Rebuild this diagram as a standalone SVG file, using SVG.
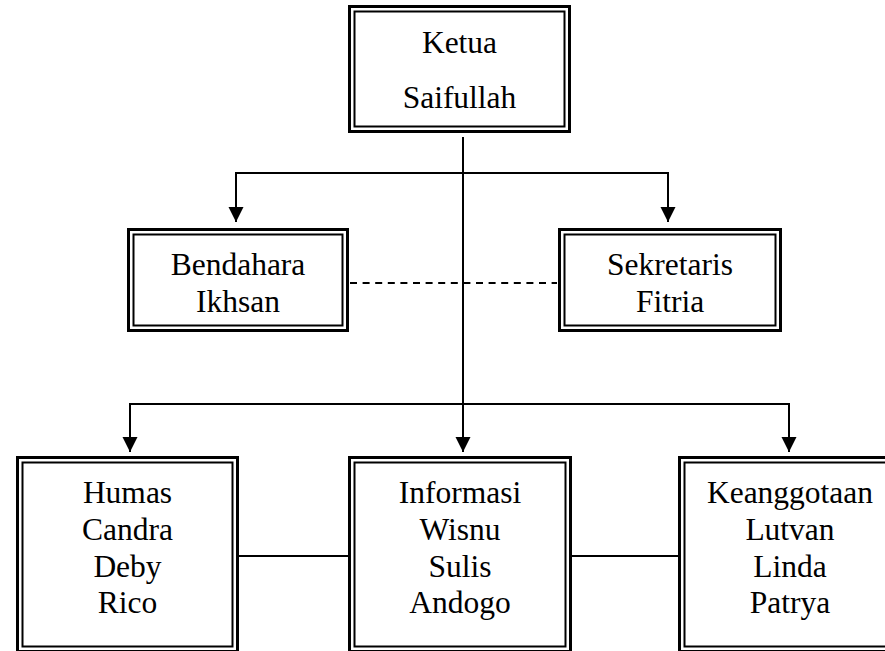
<svg xmlns="http://www.w3.org/2000/svg" width="885" height="651" viewBox="0 0 885 651">
<style>
.o{fill:#fff;stroke:#000;stroke-width:3}
.i{fill:none;stroke:#000;stroke-width:2}
text{font-family:'Liberation Serif','Times New Roman',Times,'DejaVu Serif',serif;font-size:31.5px;fill:#000;text-anchor:middle}
.c{fill:none;stroke:#000;stroke-width:2}
.d{fill:none;stroke:#000;stroke-width:2;stroke-dasharray:7 5.6}
</style>
<defs>
<marker id="ah" markerUnits="userSpaceOnUse" markerWidth="16" markerHeight="16" viewBox="0 0 16 16" refX="15" refY="7.5" orient="auto">
<path d="M0,0 L15,7.5 L0,15 z" fill="#000"/>
</marker>
</defs>
<rect width="885" height="651" fill="#fff"/>
<g id="connectors">
<line class="c" x1="463" y1="137" x2="463" y2="405"/>
<polyline class="c" points="236,173 668,173 668,222" marker-end="url(#ah)"/>
<line class="c" x1="236" y1="172" x2="236" y2="222" marker-end="url(#ah)"/>
<line class="c" x1="130" y1="404" x2="789" y2="404"/>
<line class="c" x1="130" y1="403" x2="130" y2="452" marker-end="url(#ah)"/>
<line class="c" x1="463" y1="403" x2="463" y2="452" marker-end="url(#ah)"/>
<line class="c" x1="789" y1="403" x2="789" y2="452" marker-end="url(#ah)"/>
<line class="d" x1="350" y1="283" x2="557" y2="283"/>
<line class="c" x1="239" y1="556" x2="348" y2="556"/>
<line class="c" x1="572" y1="556" x2="678" y2="556"/>
</g>
<g id="ketua" font-family="Liberation Serif, serif">
<rect class="o" x="349.5" y="6.5" width="220" height="125"/>
<rect class="i" x="354.5" y="11.5" width="210" height="115"/>
<text x="459.5" y="53">Ketua</text>
<text x="459.5" y="108">Saifullah</text>
</g>
<g id="bendahara">
<rect class="o" x="128.5" y="229.5" width="219" height="101"/>
<rect class="i" x="133.5" y="234.5" width="209" height="91"/>
<text x="238" y="275">Bendahara</text>
<text x="238" y="312">Ikhsan</text>
</g>
<g id="sekretaris">
<rect class="o" x="559.5" y="229.5" width="221" height="101"/>
<rect class="i" x="564.5" y="234.5" width="211" height="91"/>
<text x="670" y="275">Sekretaris</text>
<text x="670" y="312">Fitria</text>
</g>
<g id="humas">
<rect class="o" x="17.5" y="457.5" width="220" height="194"/>
<rect class="i" x="22.5" y="462.5" width="210" height="184"/>
<text x="127.5" y="503">Humas</text>
<text x="127.5" y="540">Candra</text>
<text x="127.5" y="577">Deby</text>
<text x="127.5" y="613">Rico</text>
</g>
<g id="informasi">
<rect class="o" x="349.5" y="457.5" width="221" height="194"/>
<rect class="i" x="354.5" y="462.5" width="211" height="184"/>
<text x="460" y="503">Informasi</text>
<text x="460" y="540">Wisnu</text>
<text x="460" y="577">Sulis</text>
<text x="460" y="613">Andogo</text>
</g>
<g id="keanggotaan">
<rect class="o" x="679.5" y="457.5" width="221" height="194"/>
<rect class="i" x="684.5" y="462.5" width="211" height="184"/>
<text x="790" y="503">Keanggotaan</text>
<text x="790" y="540">Lutvan</text>
<text x="790" y="577">Linda</text>
<text x="790" y="613">Patrya</text>
</g>
</svg>
